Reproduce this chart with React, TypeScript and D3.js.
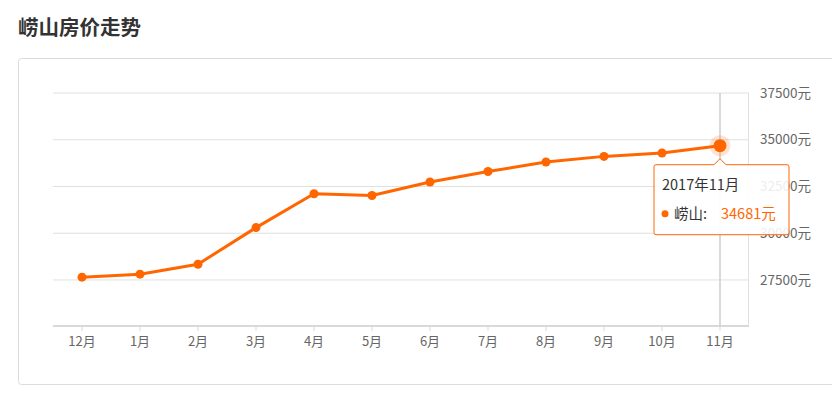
import React from "react";
import * as d3 from "d3";

const months = ["12月", "1月", "2月", "3月", "4月", "5月", "6月", "7月", "8月", "9月", "10月", "11月"];
const prices = [27650, 27810, 28340, 30300, 32110, 32020, 32740, 33300, 33810, 34110, 34290, 34681];
const yTicks = [27500, 30000, 32500, 35000, 37500];
const title = "崂山房价走势";
const seriesName = "崂山";
const tooltipTitle = "2017年11月";

const W = 832;
const H = 400;
const ORANGE = "#ff6600";
const FONT = "'Noto Sans CJK SC', 'Microsoft YaHei', sans-serif";

export default function App() {
  const x = d3.scalePoint<string>().domain(months).range([53, 749]).padding(0.5);
  const y = d3.scaleLinear().domain([25000, 37500]).range([326.7, 93]);
  const line = d3
    .line<number>()
    .x((_, i) => x(months[i]) as number)
    .y((d) => y(d));

  const hi = months.length - 1;
  const hx = x(months[hi]) as number;
  const hy = y(prices[hi]);
  const tipX = hx - 66;
  const tipY = hy + 19;
  const tipW = 135;
  const tipH = 70;

  return (
    <svg
      width={W}
      height={H}
      style={{ position: "absolute", left: 0, top: 0, fontFamily: FONT }}
    >
      <rect width={W} height={H} fill="#fff" />
      <text x={18} y={35} fontSize={20.5} fontWeight="bold" fill="#333">
        {title}
      </text>
      {/* card */}
      <rect x={18.5} y={58.5} width={830} height={326} rx={3} fill="#fff" stroke="#dcdcdc" strokeWidth={1} />
      {/* grid */}
      {yTicks.map((t) => (
        <g key={t}>
          <line x1={53} x2={749} y1={y(t)} y2={y(t)} stroke="#e0e0e0" strokeWidth={1} />
          <text x={760} y={y(t)} dy="0.35em" fontSize={13.5} fill="#666">
            {t}元
          </text>
        </g>
      ))}
      <line x1={748.5} x2={748.5} y1={93} y2={326} stroke="#e0e0e0" strokeWidth={1} />
      {/* x axis */}
      <line x1={53} x2={749} y1={326} y2={326} stroke="#d9d9d9" strokeWidth={2} />
      {months.map((m) => (
        <g key={m}>
          <line x1={x(m)} x2={x(m)} y1={327} y2={331} stroke="#d9d9d9" strokeWidth={1} />
          <text x={x(m)} y={346} textAnchor="middle" fontSize={13} fill="#666">
            {m}
          </text>
        </g>
      ))}
      {/* hover line */}
      <line x1={hx} x2={hx} y1={93} y2={326} stroke="#cccccc" strokeWidth={1.5} />
      {/* series */}
      <path d={line(prices) || ""} fill="none" stroke={ORANGE} strokeWidth={3} strokeLinejoin="round" />
      {prices.map((p, i) => (
        <circle key={i} cx={x(months[i])} cy={y(p)} r={4.5} fill={ORANGE} />
      ))}
      <circle cx={hx} cy={hy} r={10.5} fill={ORANGE} opacity={0.18} />
      <circle cx={hx} cy={hy} r={6.5} fill={ORANGE} />
      {/* tooltip */}
      <path
        d={`M${tipX},${tipY + 2} Q${tipX},${tipY} ${tipX + 2},${tipY} L${hx - 6},${tipY} L${hx},${tipY - 6} L${hx + 6},${tipY} L${tipX + tipW - 2},${tipY} Q${tipX + tipW},${tipY} ${tipX + tipW},${tipY + 2} L${tipX + tipW},${tipY + tipH - 2} Q${tipX + tipW},${tipY + tipH} ${tipX + tipW - 2},${tipY + tipH} L${tipX + 2},${tipY + tipH} Q${tipX},${tipY + tipH} ${tipX},${tipY + tipH - 2} Z`}
        fill="#fff"
        fillOpacity={0.88}
        stroke={ORANGE}
        strokeWidth={1}
      />
      <text x={tipX + 8} y={tipY + 25} fontSize={14.5} fill="#333">
        {tooltipTitle}
      </text>
      <circle cx={tipX + 11} cy={tipY + 49} r={3.5} fill={ORANGE} />
      <text x={tipX + 20} y={tipY + 54} fontSize={14.5} fill="#333">
        {seriesName}:
      </text>
      <text x={tipX + 67} y={tipY + 54} fontSize={14.5} fill={ORANGE}>
        {prices[hi]}元
      </text>
    </svg>
  );
}
